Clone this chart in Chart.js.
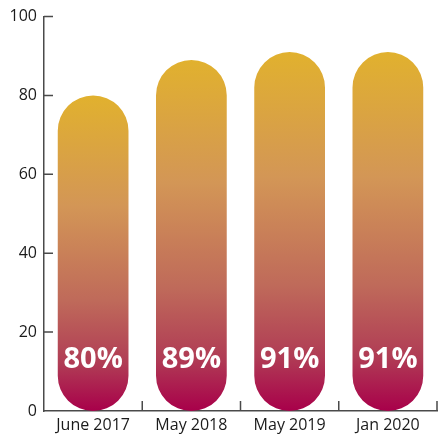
<!DOCTYPE html>
<html>
<head>
<meta charset="utf-8">
<script src="https://cdn.jsdelivr.net/npm/chart.js@4"></script>
<style>
  html, body { margin: 0; padding: 0; background: #fff; }
  #wrap { width: 438px; height: 437px; }
</style>
</head>
<body>
<div id="wrap"><canvas id="chart"></canvas></div>
<script>
const categories = ['June 2017', 'May 2018', 'May 2019', 'Jan 2020'];
const values = [80, 89, 91, 91];
const valueLabels = ['80%', '89%', '91%', '91%'];
const yTicks = [0, 20, 40, 60, 80, 100];

const fontFamily = '"Open Sans", "Noto Sans", sans-serif';
const axisColor = '#4a4a4a';

// per-bar vertical gradient, gold on top, crimson at the base
function barGradient(context) {
    const chart = context.chart;
    const { ctx, chartArea, scales } = chart;
    if (!chartArea) return '#d09050';
    const v = context.raw;
    const top = scales.y.getPixelForValue(v);
    const bottom = scales.y.getPixelForValue(0);
    const g = ctx.createLinearGradient(0, top, 0, bottom);
    g.addColorStop(0, '#e1b12e');
    g.addColorStop(0.35, '#d39656');
    g.addColorStop(0.65, '#bf6a5a');
    g.addColorStop(0.85, '#b03c55');
    g.addColorStop(1, '#a8004a');
    return g;
}

// short tick marks pointing into the plot, like the original
const innerTicks = {
    id: 'innerTicks',
    afterDraw(chart) {
        const { ctx, scales } = chart;
        const x = scales.x, y = scales.y;
        const left = x.left, base = y.getPixelForValue(0);
        ctx.save();
        ctx.strokeStyle = axisColor;
        ctx.lineWidth = 1.5;
        ctx.beginPath();
        yTicks.forEach(v => {
            if (v === 0) return;
            const py = y.getPixelForValue(v);
            ctx.moveTo(left, py);
            ctx.lineTo(left + 9, py);
        });
        for (let i = 1; i <= categories.length; i++) {
            const px = left + (x.right - left) * i / categories.length;
            ctx.moveTo(px, base);
            ctx.lineTo(px, base - 10);
        }
        ctx.stroke();
        ctx.restore();
    }
};

// white percentage labels near the bottom of each bar
const barLabels = {
    id: 'barLabels',
    afterDatasetsDraw(chart) {
        const { ctx, scales } = chart;
        const meta = chart.getDatasetMeta(0);
        const base = scales.y.getPixelForValue(0);
        ctx.save();
        ctx.fillStyle = '#ffffff';
        ctx.font = 'bold 29px ' + fontFamily;
        ctx.textAlign = 'center';
        ctx.textBaseline = 'middle';
        meta.data.forEach((bar, i) => {
            ctx.fillText(valueLabels[i], bar.x, base - 51);
        });
        ctx.restore();
    }
};

const ctx = document.getElementById('chart').getContext('2d');
new Chart(ctx, {
    type: 'bar',
    data: {
        labels: categories,
        datasets: [{
            data: values,
            backgroundColor: barGradient,
            borderRadius: 40,
            borderSkipped: false,
            categoryPercentage: 0.72,
            barPercentage: 1
        }]
    },
    options: {
        responsive: true,
        maintainAspectRatio: false,
        animation: false,
        layout: { padding: { top: 11, right: 1, left: 0, bottom: 0 } },
        plugins: {
            legend: { display: false },
            tooltip: { enabled: false }
        },
        scales: {
            y: {
                min: 0,
                max: 100,
                afterBuildTicks(scale) {
                    scale.ticks = yTicks.map(v => ({ value: v }));
                },
                afterFit(scale) { scale.width = 44; },
                grid: { display: false, drawTicks: false },
                border: { display: true, color: axisColor, width: 1.5 },
                ticks: {
                    color: '#1a1a1a',
                    padding: 7,
                    font: { family: fontFamily, size: 16 }
                }
            },
            x: {
                afterFit(scale) { scale.height = 26; },
                grid: { display: false, drawTicks: false },
                border: { display: true, color: axisColor, width: 1.5 },
                ticks: {
                    color: '#1a1a1a',
                    padding: 5,
                    font: { family: fontFamily, size: 16 }
                }
            }
        }
    },
    plugins: [barLabels, innerTicks]
});
</script>
</body>
</html>
